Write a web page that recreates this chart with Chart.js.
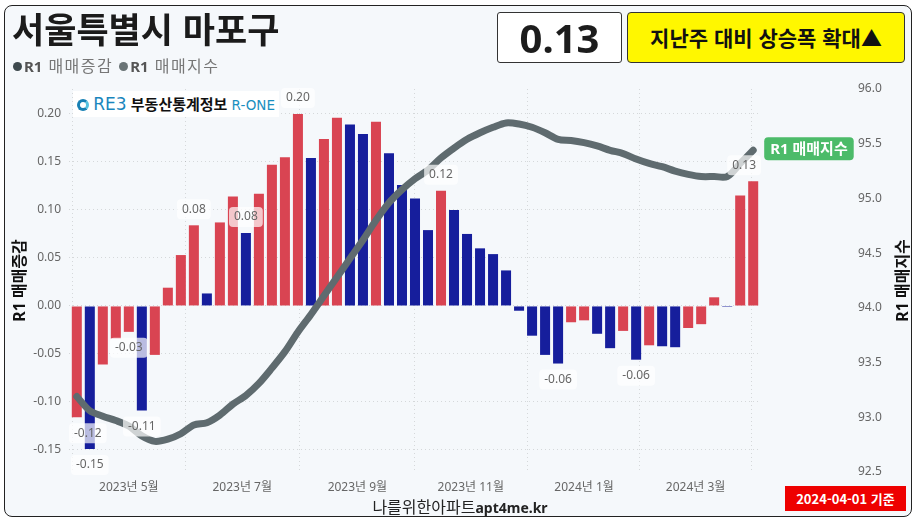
<!DOCTYPE html>
<html lang="ko">
<head>
<meta charset="utf-8">
<script src="https://cdn.jsdelivr.net/npm/chart.js@4.4.1/dist/chart.umd.min.js"></script>
<style>
  html, body { margin: 0; padding: 0; background: #fff; }
  body { width: 920px; height: 524px; position: relative; overflow: hidden;
         font-family: "Noto Sans CJK KR", "Noto Sans", sans-serif; }
  #card { position: absolute; left: 4px; top: 5px; width: 908px; height: 512px; box-sizing: border-box;
          border: 1.5px solid #222; border-radius: 8px; background: #f5f8fb; }
  #chart { position: absolute; left: 0; top: 0; }
  .ov { position: absolute; white-space: nowrap; }
  #title { left: 12px; top: 8px; font-size: 35px; font-weight: 700; color: #1b1b1b; line-height: 40px; }
  #legend { left: 13px; top: 54px; font-size: 16px; letter-spacing: 1.5px; color: #777; line-height: 22px; }
  #legend b { font-family: "Noto Sans", sans-serif; color: #555; font-size: 15px; letter-spacing: 0; }
  #legend .dot { display: inline-block; width: 9px; height: 9px; border-radius: 50%; margin-right: 2px; vertical-align: 1px; }
  #valBox { left: 497px; top: 12px; width: 125px; height: 51px; box-sizing: border-box; background: #fff;
            border: 1px solid #333; border-radius: 3px; text-align: center; line-height: 49px;
            font-family: "Noto Sans", sans-serif; font-size: 40px; font-weight: 700; color: #1c1c1c; }
  #trendBox { left: 627px; top: 12px; width: 278px; height: 51px; box-sizing: border-box; background: #fff700;
              border: 1px solid #333; border-radius: 4px; text-align: center; line-height: 49px;
              font-size: 21px; font-weight: 700; color: #111; }
  #logo { left: 73px; top: 91px; width: 206px; height: 26px; background: #fff; line-height: 26px;
          font-size: 15px; font-weight: 700; color: #111; }
  #logo .ring { display: inline-block; width: 6px; height: 6px; border: 3px solid #1780b4; border-radius: 50%;
                vertical-align: -1px; margin-left: 4px; border-right-color: #53c1e0; }
  #logo .reb { font-family: "DejaVu Sans", sans-serif; font-weight: 400; font-size: 17px; color: #1a86bd; }
  #logo .rone { font-family: "DejaVu Sans", sans-serif; font-weight: 400; font-size: 13.5px; color: #1b8fc0; }
  #source { left: 0; width: 920px; top: 495px; text-align: center; font-size: 16px; color: #222; line-height: 22px; }
  #source b { font-family: "Noto Sans", sans-serif; font-size: 14px; }
  #dateBox { left: 785px; top: 486px; width: 121px; height: 25px; background: #ee0000; color: #fff;
             text-align: center; line-height: 25px; font-size: 13px; font-weight: 700; }
</style>
</head>
<body>
<div id="card"></div>
<canvas id="chart" width="920" height="524"></canvas>
<div class="ov" id="title">서울특별시 마포구</div>
<div class="ov" id="legend"><span class="dot" style="background:#3e4a4e"></span><b>R1</b> 매매증감 <span class="dot" style="background:#6a7476"></span><b>R1</b> 매매지수</div>
<div class="ov" id="valBox"></div>
<div class="ov" id="trendBox">지난주 대비 상승폭 확대▲</div>
<div class="ov" id="logo"><span class="ring"></span> <span class="reb">RE3</span> 부동산통계정보 <span class="rone">R-ONE</span></div>
<div class="ov" id="source">나를위한아파트<b>apt4me.kr</b></div>
<div class="ov" id="dateBox"></div>
<script>
// weekly survey dates (R-ONE, Mapo-gu)
const weeks = [
  "2023-04-03", "2023-04-10", "2023-04-17", "2023-04-24", "2023-05-01", "2023-05-08", "2023-05-15",
  "2023-05-22", "2023-05-29", "2023-06-05", "2023-06-12", "2023-06-19", "2023-06-26", "2023-07-03",
  "2023-07-10", "2023-07-17", "2023-07-24", "2023-07-31", "2023-08-07", "2023-08-14", "2023-08-21",
  "2023-08-28", "2023-09-04", "2023-09-11", "2023-09-18", "2023-09-25", "2023-10-02", "2023-10-09",
  "2023-10-16", "2023-10-23", "2023-10-30", "2023-11-06", "2023-11-13", "2023-11-20", "2023-11-27",
  "2023-12-04", "2023-12-11", "2023-12-18", "2023-12-25", "2024-01-01", "2024-01-08", "2024-01-15",
  "2024-01-22", "2024-01-29", "2024-02-05", "2024-02-12", "2024-02-19", "2024-02-26", "2024-03-04",
  "2024-03-11", "2024-03-18", "2024-03-25", "2024-04-01"
];

// R1 매매증감 (weekly change, %)
const changeValues = [
  -0.116, -0.149, -0.061, -0.034, -0.027, -0.109, -0.051, 0.019, 0.053, 0.084,
  0.013, 0.087, 0.114, 0.076, 0.117, 0.147, 0.155, 0.200, 0.154, 0.174,
  0.196, 0.189, 0.179, 0.192, 0.159, 0.126, 0.112, 0.079, 0.120, 0.100,
  0.075, 0.060, 0.054, 0.037, -0.005, -0.031, -0.051, -0.060, -0.017, -0.015,
  -0.029, -0.044, -0.026, -0.056, -0.041, -0.042, -0.043, -0.023, -0.019, 0.009,
  -0.001, 0.115, 0.130
];

// R1 매매지수 (index)
const indexValues = [
  93.19, 93.06, 93.01, 92.97, 92.92, 92.83, 92.78, 92.80, 92.85, 92.93,
  92.95, 93.02, 93.12, 93.20, 93.31, 93.45, 93.60, 93.78, 93.94, 94.11,
  94.28, 94.45, 94.62, 94.80, 94.96, 95.08, 95.18, 95.26, 95.37, 95.46,
  95.54, 95.60, 95.65, 95.69, 95.68, 95.65, 95.60, 95.54, 95.53, 95.51,
  95.48, 95.44, 95.41, 95.36, 95.32, 95.29, 95.25, 95.22, 95.20, 95.20,
  95.20, 95.32, 95.44
];

// x-axis month ticks
const monthTickDates = ["2023-05-01", "2023-07-01", "2023-09-01", "2023-11-01", "2024-01-01", "2024-03-01"];
const monthTickLabels = ["2023년 5월", "2023년 7월", "2023년 9월", "2023년 11월", "2024년 1월", "2024년 3월"];

// bars that carry a data label
const labeledWeeks = [0, 1, 4, 5, 9, 13, 17, 28, 37, 43, 52];

const RED = "#d94452";
const BLUE = "#161e9c";
const LINE = "#5f6b6f";
const FONT = '"Noto Sans", "Noto Sans CJK KR", sans-serif';

// week offset from the first survey date
const weekPos = d => (Date.parse(d) - Date.parse(weeks[0])) / (7 * 864e5);

const last = changeValues.length - 1;
document.getElementById("valBox").textContent = changeValues[last].toFixed(2);
document.getElementById("dateBox").textContent = weeks[last] + " 기준";

// up vs. previous week → red, down → blue
const barColors = changeValues.map((v, i) => (i === 0 || v > changeValues[i - 1]) ? RED : BLUE);

function roundRect(ctx, x, y, w, h, r) {
    ctx.beginPath();
    ctx.moveTo(x + r, y);
    ctx.arcTo(x + w, y, x + w, y + h, r);
    ctx.arcTo(x + w, y + h, x, y + h, r);
    ctx.arcTo(x, y + h, x, y, r);
    ctx.arcTo(x, y, x + w, y, r);
    ctx.closePath();
}

const overlayPlugin = {
    id: "overlay",
    afterDatasetsDraw(chart) {
        const ctx = chart.ctx;
        const area = chart.chartArea;
        const barMeta = chart.getDatasetMeta(0);
        ctx.save();

        // data labels
        ctx.font = "12px " + FONT;
        ctx.textAlign = "center";
        ctx.textBaseline = "middle";
        labeledWeeks.forEach(i => {
            const bar = barMeta.data[i];
            const v = changeValues[i];
            const text = v.toFixed(2);
            const w = ctx.measureText(text).width + 10;
            const x = Math.max(area.left + w / 2, Math.min(area.right - w / 2, bar.x));
            const y = v >= 0 ? bar.y - 16 : bar.y + 16;
            ctx.fillStyle = "rgba(255,255,255,0.7)";
            roundRect(ctx, x - w / 2, y - 10, w, 20, 4);
            ctx.fill();
            ctx.fillStyle = "#666";
            ctx.fillText(text, x, y);
        });

        // series tag at the end of the line
        const lineMeta = chart.getDatasetMeta(1);
        const pt = lineMeta.data[lineMeta.data.length - 1];
        ctx.font = "bold 15px " + FONT;
        const tag = "R1 매매지수";
        const tw = ctx.measureText(tag).width + 12;
        ctx.fillStyle = "#4cbb69";
        roundRect(ctx, pt.x + 11, pt.y - 13, tw, 23, 4);
        ctx.fill();
        ctx.fillStyle = "#fff";
        ctx.textAlign = "left";
        ctx.fillText(tag, pt.x + 17, pt.y - 1);

        // axis titles, both reading bottom-to-top
        ctx.fillStyle = "#111";
        ctx.font = "bold 16px " + FONT;
        ctx.textAlign = "center";
        [[20, "R1 매매증감"], [903, "R1 매매지수"]].forEach(([x, t]) => {
            ctx.save();
            ctx.translate(x, (area.top + area.bottom) / 2);
            ctx.rotate(-Math.PI / 2);
            ctx.fillText(t, 0, 0);
            ctx.restore();
        });
        ctx.restore();
    }
};

new Chart(document.getElementById("chart"), {
    type: "bar",
    data: {
        datasets: [
            {
                type: "bar",
                label: "R1 매매증감",
                data: weeks.map((d, i) => ({ x: weekPos(d), y: changeValues[i] })),
                backgroundColor: barColors,
                yAxisID: "y",
                categoryPercentage: 1,
                barPercentage: 0.77,
                order: 2
            },
            {
                type: "line",
                label: "R1 매매지수",
                data: weeks.map((d, i) => ({ x: weekPos(d), y: indexValues[i] })),
                borderColor: LINE,
                borderWidth: 7,
                borderCapStyle: "round",
                borderJoinStyle: "round",
                pointRadius: 0,
                tension: 0.3,
                yAxisID: "y1",
                order: 1
            }
        ]
    },
    options: {
        responsive: false,
        animation: false,
        layout: { padding: { left: 5, top: 89, right: 9, bottom: 22 } },
        plugins: {
            legend: { display: false },
            tooltip: { enabled: false }
        },
        scales: {
            x: {
                type: "linear",
                offset: false,
                min: -0.6,
                max: 52.6,
                afterFit: s => { s.height = 30; },
                afterBuildTicks: s => { s.ticks = monthTickDates.map(d => ({ value: weekPos(d) })); },
                ticks: {
                    autoSkip: false,
                    maxRotation: 0,
                    padding: 8,
                    color: "#666",
                    font: { size: 12, family: FONT },
                    callback: (v, i) => monthTickLabels[i]
                },
                grid: { color: "rgba(0,0,0,0.13)", drawTicks: false },
                border: { display: false, dash: [1, 3] }
            },
            y: {
                position: "left",
                min: -0.173,
                max: 0.226,
                afterFit: s => { s.width = 64; },
                ticks: {
                    stepSize: 0.05,
                    includeBounds: false,
                    padding: 8,
                    color: "#666",
                    font: { size: 12, family: FONT },
                    callback: v => v.toFixed(2)
                },
                grid: { color: "rgba(0,0,0,0.13)", drawTicks: false },
                border: { display: false, dash: [1, 3] }
            },
            y1: {
                position: "right",
                min: 92.5,
                max: 96.0,
                afterFit: s => { s.width = 150; },
                ticks: {
                    stepSize: 0.5,
                    padding: 8,
                    color: "#666",
                    font: { size: 12, family: FONT },
                    callback: v => v.toFixed(1)
                },
                // labels sit well right of the plot; the hidden tick length makes that gap
                grid: { display: false, drawTicks: true, tickLength: 89 },
                border: { display: false }
            }
        }
    },
    plugins: [overlayPlugin]
});
</script>
</body>
</html>
